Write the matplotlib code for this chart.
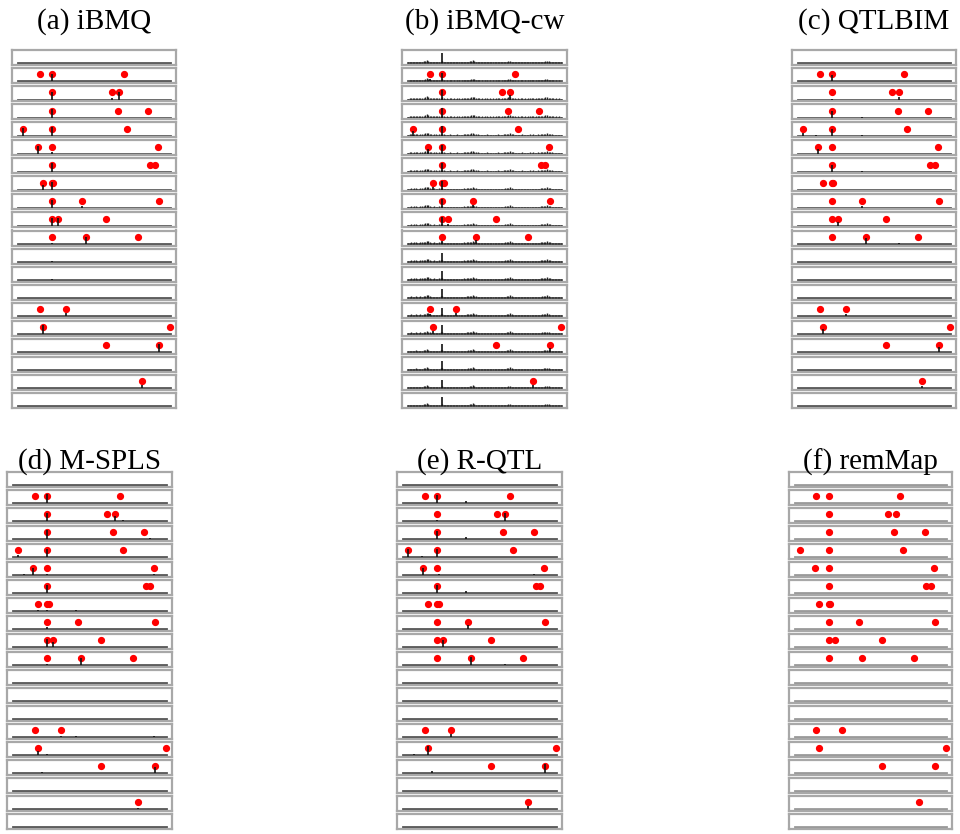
import matplotlib
matplotlib.use('Agg')
import matplotlib.pyplot as plt

W, H = 960, 834

# true QTL positions (marker index 1..100) for each of the 20 responses
true_qtl = [
    [], [15, 23, 70], [23, 62, 67], [23, 66, 86], [4, 23, 72],
    [14, 23, 92], [23, 87, 90], [17, 23, 24], [23, 43, 93], [23, 27, 58],
    [23, 45, 79], [], [], [], [15, 32],
    [17, 100], [58, 93], [], [82], [],
]

# estimated signals per method: (marker, height) for each response
ibmq_hits = [
    [(23, 0.08)], [(23, 1.1)], [(23, 1.1), (62, 0.15), (67, 1.1)], [(23, 1.2)],
    [(4, 1.1), (23, 1.2)], [(14, 1.1), (23, 0.2)], [(23, 1.2)], [(17, 0.7), (23, 1.1)],
    [(23, 1.1), (43, 0.3)], [(23, 1.1), (27, 1.1)], [(23, 0.1), (45, 1.0)], [(23, 0.08)],
    [(23, 0.08)], [(23, 0.08)], [(23, 0.08), (32, 0.4)], [(17, 1.3), (23, 0.08)],
    [(23, 0.08), (93, 1.1)], [(23, 0.08)], [(23, 0.08), (82, 0.5)], [(23, 0.08)],
]

ibmqcw_hits = [
    [(23, 1.5)], [(15, 0.3), (23, 1.2)], [(23, 1.3), (67, 0.6)], [(23, 1.3)],
    [(4, 0.6), (23, 1.3)], [(14, 0.6), (23, 1.2)], [(23, 1.3)], [(17, 0.4), (23, 1.3)],
    [(23, 1.3), (43, 0.4)], [(23, 1.3), (27, 0.3)], [(23, 0.4), (45, 0.5)], [(23, 1.3)],
    [(23, 1.3)], [(23, 1.3)], [(15, 0.3), (23, 1.2), (32, 0.4)], [(17, 0.5), (23, 1.3)],
    [(23, 1.2), (93, 0.6)], [(23, 1.3)], [(23, 1.2), (82, 0.5)], [(23, 1.3)],
]

# weak background signal shared by every response in iBMQ-cw
cw_base = [
    0.14, 0.18, 0.24, 0.16, 0.22, 0.26, 0.18, 0.16, 0.24, 0.22,
    0.28, 0.34, 0.44, 0.38, 0.24, 0.18, 0.16, 0.22, 0.18, 0.16,
    0.22, 0.26, 0.30, 0.18, 0.14, 0.16, 0.14, 0.18, 0.16, 0.14,
    0.16, 0.14, 0.18, 0.16, 0.14, 0.16, 0.22, 0.18, 0.24, 0.26,
    0.28, 0.32, 0.42, 0.30, 0.24, 0.18, 0.16, 0.14, 0.16, 0.14,
    0.16, 0.18, 0.14, 0.16, 0.14, 0.16, 0.14, 0.16, 0.18, 0.16,
    0.14, 0.16, 0.18, 0.22, 0.26, 0.30, 0.40, 0.26, 0.18, 0.16,
    0.14, 0.16, 0.14, 0.16, 0.18, 0.14, 0.16, 0.14, 0.16, 0.18,
    0.16, 0.18, 0.14, 0.16, 0.18, 0.16, 0.22, 0.24, 0.26, 0.30,
    0.38, 0.28, 0.22, 0.18, 0.16, 0.14, 0.16, 0.14, 0.16, 0.14,
]

qtlbim_hits = [
    [], [(23, 0.9), (43, 0.1)], [(23, 0.08), (67, 0.35)], [(23, 1.0), (43, 0.08)],
    [(4, 0.35), (13, 0.08), (23, 1.0), (43, 0.08)], [(14, 0.6)], [(23, 1.0), (43, 0.08)], [],
    [(43, 0.3)], [(27, 0.6)], [(45, 0.85), (67, 0.08)], [],
    [], [], [(32, 0.3)], [(17, 0.7)],
    [(21, 0.08), (93, 0.8)], [], [(82, 0.3)], [],
]

mspls_hits = [
    [(40, 0.05), (70, 0.05)], [(23, 1.3), (48, 0.05)], [(23, 1.1), (10, 0.06), (67, 0.8), (72, 0.08)], [(23, 1.3), (90, 0.08)],
    [(4, 0.3), (23, 1.2), (18, 0.06)], [(14, 1.0), (23, 0.2), (8, 0.08), (92, 0.2)], [(23, 1.2), (45, 0.06)], [(17, 0.2), (23, 0.2), (42, 0.1)],
    [(23, 0.3), (60, 0.05)], [(23, 1.2), (27, 0.8), (33, 0.06)], [(23, 0.1), (45, 1.0), (70, 0.06)], [(55, 0.05)],
    [(30, 0.05)], [(42, 0.05)], [(32, 0.2), (42, 0.08), (92, 0.15)], [(17, 0.6), (23, 0.1)],
    [(20, 0.1), (93, 0.9)], [], [(82, 0.2), (48, 0.05)], [],
]

rqtl_hits = [
    [], [(23, 1.2), (42, 0.3)], [(23, 0.2), (67, 1.1)], [(23, 1.2), (42, 0.3)],
    [(4, 1.2), (13, 0.2), (23, 1.2)], [(14, 1.0), (24, 0.2), (86, 0.1)], [(23, 1.2), (42, 0.3)], [],
    [(43, 0.6)], [(27, 1.0)], [(45, 1.1), (67, 0.2)], [],
    [], [], [(32, 0.5)], [(8, 0.1), (17, 1.3)],
    [(20, 0.3), (93, 1.3)], [], [(82, 0.4)], [],
]

panels = [
    ('(a) iBMQ', ibmq_hits, None, 12, 176, 50, 18.05, 15, '#555555'),
    ('(b) iBMQ-cw', ibmqcw_hits, cw_base, 402, 567, 50, 18.05, 15, '#555555'),
    ('(c) QTLBIM', qtlbim_hits, None, 792, 956, 50, 18.05, 15, '#555555'),
    ('(d) M-SPLS', mspls_hits, None, 7, 172, 472, 18.0, 14.5, '#555555'),
    ('(e) R-QTL', rqtl_hits, None, 397, 562, 472, 18.0, 14.5, '#555555'),
    ('(f) remMap', None, None, 789, 952, 472, 18.0, 14.5, '#999999'),
]

n_markers = 100
markers = list(range(1, n_markers + 1))
pad = 0.04 * (n_markers - 1)

fig = plt.figure(figsize=(W / 100, H / 100), dpi=100)

for title, hits, base, x0, x1, y0, pitch, h, base_col in panels:
    for i in range(20):
        top = y0 + i * pitch
        ax = fig.add_axes([x0 / W, 1 - (top + h) / H, (x1 - x0) / W, h / H])
        ax.set_xlim(1 - pad, n_markers + pad)
        ax.set_ylim(-0.22, 1.9)
        ax.set_xticks([])
        ax.set_yticks([])
        for s in ax.spines.values():
            s.set_color('#a8a8a8')
            s.set_linewidth(1.6)
        ax.plot([1, n_markers], [0, 0], color=base_col, lw=2.0, zorder=1)
        if base is not None:
            ax.vlines(markers, 0, base, color='#222222', lw=1.0, zorder=2)
        if true_qtl[i]:
            ax.plot(true_qtl[i], [1.0] * len(true_qtl[i]), 'o', color='red',
                    ms=4.2, mec='red', zorder=3)
        if hits is not None and hits[i]:
            xs = [p for p, _ in hits[i]]
            ys = [v for _, v in hits[i]]
            ax.vlines(xs, 0, ys, color='#111111', lw=1.4, alpha=0.85, zorder=4)
    cx = (x0 + x1) / 2 / W
    ty = 1 - (22 if y0 < 100 else 462) / H
    fig.text(cx, ty, title, ha='center', va='center', fontsize=21,
             family='Liberation Serif')

fig.savefig('out.png', dpi=100)
